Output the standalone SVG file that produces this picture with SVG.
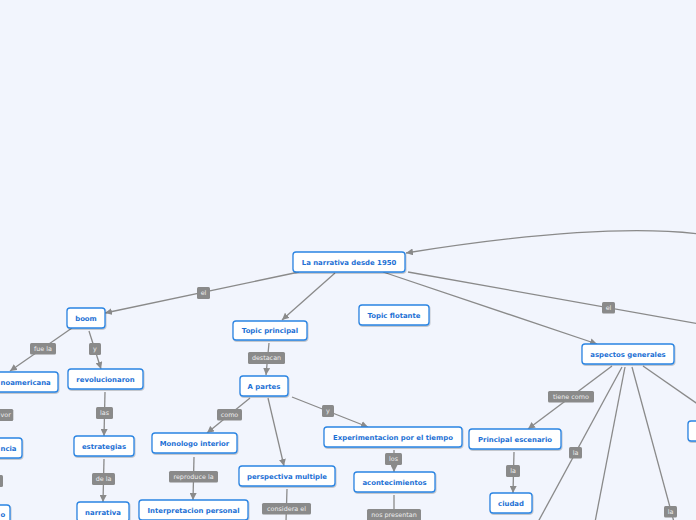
<svg xmlns="http://www.w3.org/2000/svg" width="696" height="520" viewBox="0 0 696 520">
<defs>
<marker id="ar" viewBox="0 0 10 10" refX="10" refY="5" markerWidth="7" markerHeight="7" markerUnits="userSpaceOnUse" orient="auto"><path d="M0,0 L10,5 L0,10 z" fill="#8a8a8a"/></marker>
<filter id="sh" x="-10%" y="-20%" width="120%" height="150%"><feDropShadow dx="0.6" dy="1" stdDeviation="0.6" flood-color="#000" flood-opacity="0.25"/></filter>
<style>
.bg{fill:#f2f5fd}
.n rect{fill:#fff;stroke:#2a84e2;stroke-width:1.3;filter:url(#sh)}
.n text{font-family:"DejaVu Sans",Verdana,sans-serif;font-weight:bold;font-size:6.9px;fill:#1c70d4;text-anchor:middle}
.e path,.e line{stroke:#8a8a8a;stroke-width:1.3;fill:none}
.a{marker-end:url(#ar)}
.l rect{fill:#8a8a8a}
.l text{font-family:"DejaVu Sans",Verdana,sans-serif;font-size:6.4px;fill:#eeeeee;text-anchor:middle}
</style>
</defs>
<rect class="bg" x="0" y="0" width="696" height="520"/>
<g id="connectors" class="e">
<path class="a" d="M700,234 Q600,222 406,253"/>
<line class="a" x1="299" y1="272" x2="105" y2="313"/>
<line class="a" x1="335" y1="273" x2="282" y2="320"/>
<line class="a" x1="383" y1="272" x2="597" y2="344"/>
<line x1="408" y1="272" x2="700" y2="324"/>
<line class="a" x1="72" y1="328" x2="10" y2="371"/>
<line class="a" x1="89" y1="331" x2="101" y2="369"/>
<line class="a" x1="105" y1="392" x2="104" y2="436"/>
<line class="a" x1="104" y1="459" x2="103" y2="502"/>
<line class="a" x1="269" y1="343" x2="266" y2="375"/>
<line class="a" x1="250" y1="398" x2="207" y2="433"/>
<line class="a" x1="268" y1="398" x2="284" y2="466"/>
<line class="a" x1="292" y1="397" x2="368" y2="427"/>
<line class="a" x1="194" y1="457" x2="193" y2="500"/>
<line x1="287" y1="489" x2="286" y2="522"/>
<line class="a" x1="394" y1="450" x2="394" y2="472"/>
<line x1="394" y1="495" x2="394" y2="522"/>
<line class="a" x1="612" y1="366" x2="528" y2="429"/>
<line class="a" x1="514" y1="452" x2="513" y2="493"/>
<line x1="622" y1="367" x2="538" y2="522"/>
<line x1="625" y1="367" x2="595" y2="522"/>
<line x1="632" y1="367" x2="674" y2="522"/>
<line x1="643" y1="366" x2="722" y2="421"/>
<g class="l">
<rect x="197" y="287" width="13" height="12" rx="1.5"/><text x="203.5" y="295.3">el</text>
<rect x="30" y="343" width="26" height="11.5" rx="1.5"/><text x="43" y="351">fue la</text>
<rect x="89" y="343" width="12" height="12" rx="1.5"/><text x="95" y="351.2">y</text>
<rect x="96" y="407" width="17" height="12" rx="1.5"/><text x="104.5" y="415.2">las</text>
<rect x="92" y="473" width="23" height="12" rx="1.5"/><text x="103.5" y="481.2">de la</text>
<rect x="248" y="352" width="37" height="12" rx="1.5"/><text x="266.5" y="360.2">destacan</text>
<rect x="217" y="409" width="25" height="11.5" rx="1.5"/><text x="229.5" y="417">como</text>
<rect x="322" y="405" width="12" height="12" rx="1.5"/><text x="328" y="413.2">y</text>
<rect x="169" y="471" width="49" height="11.5" rx="1.5"/><text x="193.5" y="479">reproduce la</text>
<rect x="262" y="503" width="49" height="11.5" rx="1.5"/><text x="286.5" y="511">considera el</text>
<rect x="385" y="453" width="17" height="12" rx="1.5"/><text x="393.5" y="461.2">los</text>
<rect x="367" y="509" width="54" height="12" rx="1.5"/><text x="394" y="517.2">nos presentan</text>
<rect x="602" y="302" width="13" height="11.5" rx="1.5"/><text x="608.5" y="310">el</text>
<rect x="548" y="391" width="46" height="11.5" rx="1.5"/><text x="571" y="399">tiene como</text>
<rect x="506" y="465" width="14" height="12" rx="1.5"/><text x="513" y="473.2">la</text>
<rect x="569" y="447" width="13" height="11.5" rx="1.5"/><text x="575.5" y="455">la</text>
<rect x="664" y="506" width="13" height="11.5" rx="1.5"/><text x="670.5" y="514">la</text>
<rect x="-20" y="409" width="33.3" height="12" rx="1.5"/><text x="0.5" y="417.2" style="text-anchor:start">vor</text>
<rect x="-20" y="475" width="23" height="12" rx="1.5"/>
</g>
</g>
<g id="n1" class="n"><rect x="293" y="252" width="112" height="20" rx="3"/><text x="349" y="264.5">La narrativa desde 1950</text></g>
<g id="n2" class="n"><rect x="233" y="321" width="74" height="19" rx="3"/><text x="270" y="333">Topic principal</text></g>
<g id="n3" class="n"><rect x="359" y="305" width="70" height="20" rx="3"/><text x="394" y="317.5">Topic flotante</text></g>
<g id="n4" class="n"><rect x="67" y="308" width="38" height="20" rx="3"/><text x="86" y="320.5">boom</text></g>
<g id="n5" class="n"><rect x="68" y="369" width="75" height="20" rx="3"/><text x="105.5" y="381.5">revolucionaron</text></g>
<g id="n6" class="n"><rect x="-30" y="372" width="88" height="20" rx="3"/><text x="0.5" y="384.5" style="text-anchor:start">noamericana</text></g>
<g id="n7" class="n"><rect x="-30" y="438" width="52" height="20" rx="3"/><text x="0.5" y="450.5" style="text-anchor:start">ncia</text></g>
<g id="n8" class="n"><rect x="-30" y="505" width="40" height="20" rx="3"/><text x="0.5" y="516.5" style="text-anchor:start">o</text></g>
<g id="n9" class="n"><rect x="74" y="436" width="60" height="20" rx="3"/><text x="104" y="448.5">estrategias</text></g>
<g id="n10" class="n"><rect x="77" y="502" width="52" height="20" rx="3"/><text x="103" y="514.5">narrativa</text></g>
<g id="n11" class="n"><rect x="152" y="433" width="85" height="20" rx="3"/><text x="194.5" y="445.5">Monologo interior</text></g>
<g id="n12" class="n"><rect x="139" y="500" width="109" height="20" rx="3"/><text x="193.5" y="512.7">Interpretacion personal</text></g>
<g id="n13" class="n"><rect x="240" y="376" width="48" height="20" rx="3"/><text x="264" y="388.5">A partes</text></g>
<g id="n14" class="n"><rect x="239" y="466" width="96" height="20" rx="3"/><text x="287" y="478.5">perspectiva multiple</text></g>
<g id="n15" class="n"><rect x="324" y="427" width="138" height="20" rx="3"/><text x="393" y="439.5">Experimentacion por el tiempo</text></g>
<g id="n16" class="n"><rect x="354" y="472" width="81" height="20" rx="3"/><text x="394.5" y="484.5">acontecimientos</text></g>
<g id="n17" class="n"><rect x="582" y="344" width="92" height="20" rx="3"/><text x="628" y="356.5">aspectos generales</text></g>
<g id="n18" class="n"><rect x="469" y="429" width="92" height="20" rx="3"/><text x="515" y="441.5">Principal escenario</text></g>
<g id="n19" class="n"><rect x="490" y="493" width="42" height="20" rx="3"/><text x="511" y="505.5">ciudad</text></g>
<g id="n20" class="n"><rect x="688" y="421" width="40" height="20" rx="3"/></g>
</svg>
